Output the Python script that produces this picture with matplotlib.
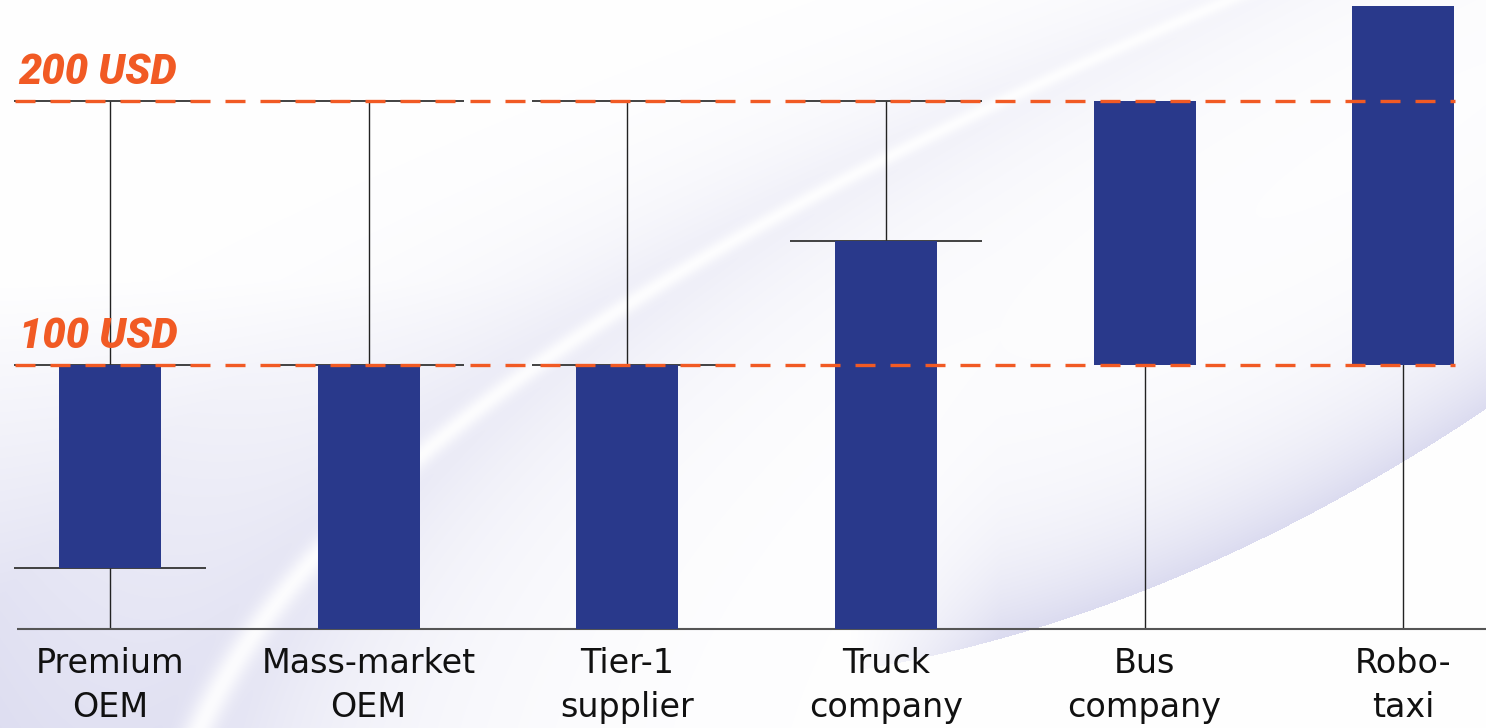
import numpy as np
import matplotlib
matplotlib.use("Agg")
import matplotlib.pyplot as plt

# data (USD per vehicle)
categories = ["Premium\nOEM", "Mass-market\nOEM", "Tier-1\nsupplier",
              "Truck\ncompany", "Bus\ncompany", "Robo-\ntaxi"]
bar_low = [23, 0, 0, 0, 100, 100]
bar_high = [100, 100, 100, 147, 200, 236]
whisker_low = [0, 0, 0, 0, 0, 0]
whisker_high = [200, 200, 200, 200, 200, 236]
ref_levels = [100, 200]
ref_labels = ["100 USD", "200 USD"]

BAR = "#29398b"
ORANGE = "#f15a24"

fig = plt.figure(figsize=(14.86, 7.28), dpi=100)

# soft background swoosh (decoration only)
H, W = 728, 1486
Y, X = np.mgrid[0:H, 0:W].astype(float)
p1 = np.polyfit([0, 90, 250, 470, 728], [1250, 1000, 700, 430, 190], 2)
xc = np.polyval(p1, Y)
d = X - xc
band = 0.55 * np.exp(-np.abs(d) / 170) * (1 - 0.9 * np.exp(-(d / 18) ** 2))
band *= 0.35 + 0.65 * Y / H
left = 0.55 * np.clip(-d / 280, 0, 1) * np.clip((Y - 280) / 448, 0, 1)
p2 = np.polyfit([880, 1117, 1347, 1486], [665, 603, 490, 410], 2)
yc2 = np.polyval(p2, X)
up = yc2 - Y
low = np.where(up > 0, 0.6 * np.exp(-up / 90), 0) * np.clip((X - 850) / 150, 0, 1)
alpha = np.clip(band + left + low, 0, 0.85)
lav = np.array([196, 196, 230]) / 255.0
img = (1 - alpha[..., None]) * 1.0 + alpha[..., None] * lav
bg = fig.add_axes([0, 0, 1, 1], zorder=0)
bg.imshow(img, aspect="auto", extent=[0, 1, 0, 1])
bg.axis("off")

ax = fig.add_axes([0, 0, 1, 1], zorder=1)
ax.patch.set_alpha(0)
x = np.arange(len(categories))
ax.set_xlim(-0.425, 5.32)
ax.set_ylim(-37.5, 238.3)
ax.axis("off")

# whiskers
ax.vlines(x, whisker_low, whisker_high, color="#222222", lw=1.0, zorder=2)
# caps (only where the whisker reaches past the bar)
cap = 0.37
for i in range(len(x)):
    if bar_high[i] < whisker_high[i]:
        for v in {bar_low[i], bar_high[i], whisker_high[i]}:
            if v > 0:
                ax.hlines(v, x[i] - cap, x[i] + cap, color="#333333", lw=1.3, zorder=2)
# baseline
ax.hlines(0, -0.36, 5.32, color="#555555", lw=1.5, zorder=2)

# bars
ax.bar(x, np.array(bar_high) - np.array(bar_low), bottom=bar_low, width=0.394,
       color=BAR, zorder=3)

# reference lines
for lv, lab in zip(ref_levels, ref_labels):
    ax.hlines(lv, -0.367, 5.2, color=ORANGE, lw=2.4, linestyles=(0, (6, 4.5)), zorder=4)
    ax.text(0.26, lv + 6.3, lab, ha="right", va="baseline", color=ORANGE,
            fontsize=30, fontweight="heavy", style="italic", family="Roboto", zorder=5)

# category labels
for i, lab in enumerate(categories):
    ax.text(x[i], -6.8, lab, ha="center", va="top", fontsize=24,
            family="DejaVu Sans", color="#111111", linespacing=1.42, zorder=5)

fig.savefig("out.png", dpi=100)
